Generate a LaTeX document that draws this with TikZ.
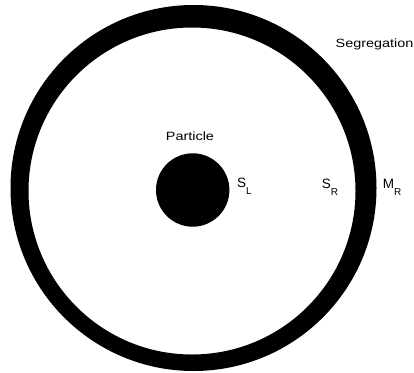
\documentclass[tikz,border=0pt]{standalone}
\usepackage{fontspec}
\setmainfont{Liberation Sans}
\newfontfamily\widefont[FakeStretch=1.2]{Liberation Sans}
\newcommand{\subl}[1]{\raisebox{-7.5pt}{\fontsize{10}{10}\selectfont #1}}
\begin{document}
\begin{tikzpicture}[x=1pt,y=-1pt,
  lbl/.style={inner sep=0pt, anchor=base west, font=\fontsize{13.5}{14}\selectfont},
  wlbl/.style={inner sep=0pt, font=\widefont\fontsize{12}{13}\selectfont},
  ring/.style={fill=black, even odd rule}]
\useasboundingbox (0,0) rectangle (414,372);
\clip (0,0) rectangle (414,372);
\fill[white] (0,0) rectangle (414,372);
% outer ring
\fill[ring] (193.5,188) circle[radius=183pt] (192,191) circle[radius=163.5pt];
% particle
\node[circle, fill=black, minimum size=73.4pt, inner sep=0pt] (particle) at (192.7,190) {};
% labels
\node[wlbl, anchor=base] (ptext) at (190,140) {Particle};
\node[wlbl, anchor=base east] (seg) at (413.5,47.3) {Segregation};
\node[lbl] (sl) at (237,187) {S\subl{L}};
\node[lbl] (sr) at (321.7,188) {S\subl{R}};
\node[lbl] (mr) at (382.7,188) {M\subl{R}};
\end{tikzpicture}
\end{document}
